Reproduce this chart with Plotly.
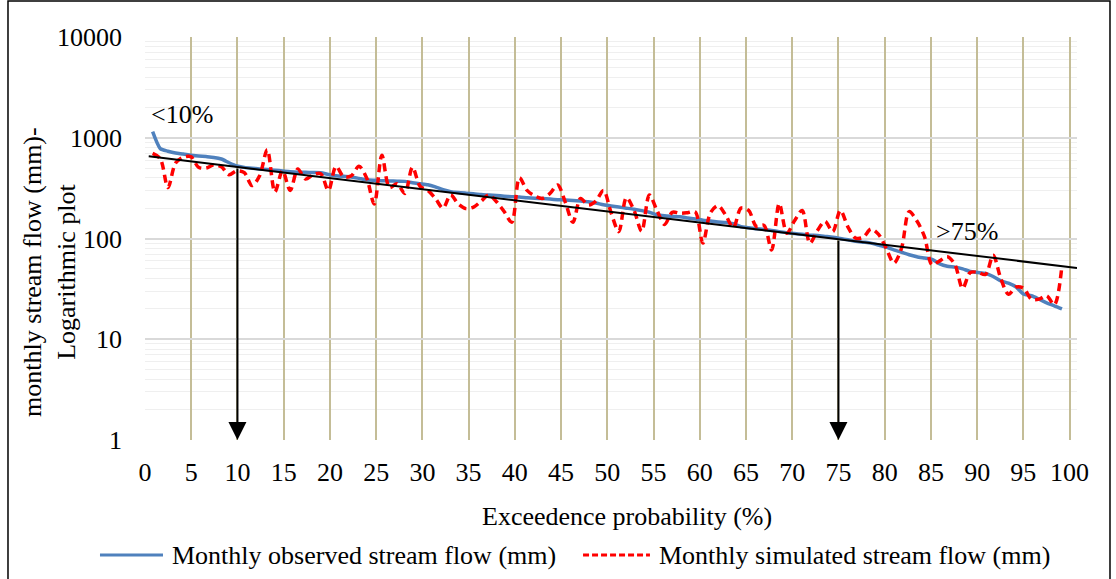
import numpy as np
import plotly.graph_objects as go

# ---------------- data ----------------
# 120 monthly values ranked; exceedence probability = rank / (n + 1) * 100
observed = [1150, 780, 735, 705, 690, 672, 660, 650, 638, 615,
            565, 525, 508, 498, 490, 483, 476, 468, 460, 455,
            454, 452, 450, 432, 420, 414, 408, 395, 382, 378,
            375, 373, 371, 369, 358, 350, 342, 325, 305, 292,
            286, 282, 278, 273, 270, 267, 263, 260, 258, 254,
            251, 249, 246, 243, 241, 238, 235, 232, 225, 216,
            210, 205, 200, 195, 189, 182, 172, 168, 166, 164,
            160, 156, 152, 149, 146, 144, 140, 131, 128, 125,
            123, 120, 117, 114, 112, 110, 108, 107, 105, 103,
            100, 97, 94, 92, 90, 86, 82, 77, 73, 69,
            66, 64, 62, 56, 53, 52, 50, 47, 46, 45,
            42, 38, 36, 33, 28, 27, 25, 23, 21.5, 20]

simulated = [700, 620, 320, 560, 640, 650, 510, 500, 540, 515,
             430, 470, 450, 335, 420, 760, 290, 470, 300, 490,
             390, 430, 440, 300, 520, 410, 420, 520, 400, 220,
             670, 320, 350, 280, 510, 330, 300, 250, 200, 270,
             220, 198, 205, 235, 270, 232, 185, 145, 400, 300,
             265, 250, 280, 340, 230, 145, 250, 215, 235, 300,
             180, 117, 255, 190, 118, 270, 190, 138, 182, 178,
             180, 184, 90, 180, 212, 170, 128, 200, 190, 132,
             135, 77, 222, 113, 150, 190, 90, 120, 148, 117,
             190, 130, 101, 103, 124, 110, 80, 57, 80, 185,
             150, 105, 55, 60, 66, 55, 32, 46, 46, 44,
             68, 40, 28, 33, 32, 25, 25, 27, 22, 54]

n = len(observed)
exceed = np.arange(1, n + 1) / (n + 1) * 100

# hand-drawn guide line (end points) and marked thresholds
guide_x = [0.4, 100.8]
guide_y = [655, 51]
thresholds = [10, 75]

x_ticks = list(range(0, 101, 5))
y_ticks = [1, 10, 100, 1000, 10000]

FONT = "Liberation Serif"
FS = 26
BLUE = "#4F81BD"
RED = "#FF0000"

fig = go.Figure()
fig.add_trace(go.Scatter(
    x=exceed, y=observed, mode="lines",
    name="Monthly observed stream flow (mm)",
    line=dict(color=BLUE, width=3.5, shape="spline", smoothing=0.6)))
fig.add_trace(go.Scatter(
    x=exceed, y=simulated, mode="lines",
    name="Monthly simulated stream flow (mm)",
    line=dict(color=RED, width=3.5, dash="8px,5px", shape="spline", smoothing=0.9)))
fig.add_trace(go.Scatter(
    x=guide_x, y=guide_y, mode="lines", showlegend=False,
    line=dict(color="black", width=2)))

# arrows from guide line down to the axis
lg = np.log10(guide_y)
annotations = []
for t in thresholds:
    top = np.interp(t, guide_x, lg)
    annotations.append(dict(
        x=t, y=0, ax=t, ay=top, xref="x", yref="y", axref="x", ayref="y",
        text="", showarrow=True, arrowhead=2, arrowsize=1.8, arrowwidth=2,
        arrowcolor="black"))

annotations += [
    dict(x=0.4, y=np.log10(1700), xref="x", yref="y", text="&lt;10%",
         showarrow=False, xanchor="left", yanchor="middle", font=dict(size=FS)),
    dict(x=85.3, y=np.log10(118), xref="x", yref="y", text="&gt;75%",
         showarrow=False, xanchor="left", yanchor="middle", font=dict(size=FS)),
    dict(x=-0.102, y=0.417, xref="paper", yref="paper",
         text="monthly stream flow (mm)-<br>Logarithmic plot", textangle=-90,
         showarrow=False, xanchor="center", yanchor="middle", font=dict(size=FS)),
    dict(x=0.517, y=-0.191, xref="paper", yref="paper",
         text="Exceedence probability (%)",
         showarrow=False, xanchor="center", yanchor="middle", font=dict(size=FS)),
]

# legend drawn by hand so the line samples are as long as in the original
LEG_Y = -0.2854
legend_items = [(fig.data[0], -0.0483, 0.0193, "solid"),
                (fig.data[1], 0.470, 0.5418, "6px,3px")]
shapes = []
for tr, x0, x1, dash in legend_items:
    shapes.append(dict(type="line", xref="paper", yref="paper", x0=x0, x1=x1,
                       y0=LEG_Y, y1=LEG_Y,
                       line=dict(color=tr.line.color, width=3, dash=dash)))
    annotations.append(dict(x=x1 + 0.0075, y=LEG_Y, xref="paper", yref="paper",
                            text=tr.name, showarrow=False, xanchor="left",
                            yanchor="middle", font=dict(size=FS)))

shapes.append(dict(type="rect", xref="paper", yref="paper",
                   x0=-0.147, x1=1.0354, y0=-0.36, y1=1.0893,
                   line=dict(color="black", width=1.5), layer="below"))

minor_vals = [m * 10 ** e for e in range(4) for m in range(2, 10)]

fig.update_layout(
    width=1116, height=579,
    margin=dict(l=145, r=39, t=37, b=139, autoexpand=False),
    paper_bgcolor="white", plot_bgcolor="white",
    font=dict(family=FONT, size=FS, color="black"),
    xaxis=dict(range=[0, 100.8], tickvals=x_ticks, showgrid=True,
               gridcolor="#C4BD97", gridwidth=2, zeroline=False, showline=False,
               ticks="", ticklabelstandoff=14),
    yaxis=dict(type="log", range=[0, 4], tickvals=y_ticks, ticktext=[str(v) for v in y_ticks],
               showgrid=True, gridcolor="#D9D9D9", gridwidth=2, zeroline=False,
               showline=False, ticks="", ticklabelstandoff=22,
               minor=dict(tickvals=minor_vals, showgrid=True, gridcolor="#EFEFEF", gridwidth=1)),
    annotations=annotations,
    shapes=shapes,
    showlegend=False,
)

fig.write_html("out.html", config={"displayModeBar": False},
               post_script="document.body.style.margin='0';")
